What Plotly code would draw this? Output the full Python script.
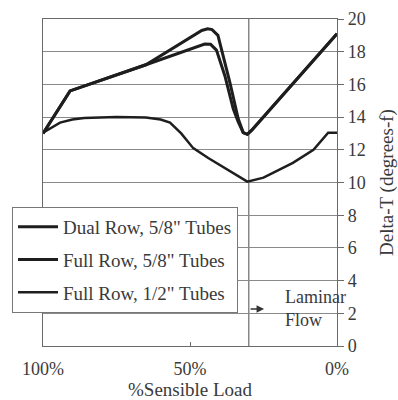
import plotly.graph_objects as go

# Data (x = % sensible load, y = delta-T degrees F)
dual_58_x = [100, 90.8, 65, 48.9, 46, 44, 42.5, 40.5, 38.5, 36.4, 33.6, 31.9, 30.5, 29, 0]
dual_58_y = [13.0, 15.6, 17.2, 19.0, 19.3, 19.4, 19.35, 19.0, 17.6, 16.1, 13.9, 13.05, 12.95, 13.2, 19.1]

full_58_x = [100, 90.8, 65, 48.9, 45, 43, 41, 38.1, 35.3, 33.6, 31.9, 30.5, 29, 0]
full_58_y = [13.0, 15.6, 17.2, 18.26, 18.47, 18.45, 18.1, 16.5, 14.5, 13.7, 13.05, 12.95, 13.2, 19.1]

full_12_x = [100, 94.2, 90, 86, 75, 65, 60, 56.8, 53, 48.9, 43.8, 37.5, 30.5, 25, 21.7, 15, 8, 3, 0]
full_12_y = [13.05, 13.66, 13.85, 13.95, 14.0, 13.97, 13.85, 13.66, 13.0, 12.1, 11.5, 10.8, 10.05, 10.3, 10.6, 11.2, 12.0, 13.05, 13.05]

series_names = ['Dual Row, 5/8" Tubes', 'Full Row, 5/8" Tubes', 'Full Row, 1/2" Tubes']
x_tickvals = [100, 50, 0]
x_ticktext = ["100%", "50%", "0%"]
y_tickvals = list(range(0, 21, 2))
laminar_load = 30

FONT = "Liberation Serif, Times New Roman, serif"
TXT = "#3a3a3a"
GRID = "#8a8a8a"
LINE = "#1e1e1e"

fig = go.Figure()
fig.add_trace(go.Scatter(x=dual_58_x, y=dual_58_y, mode="lines", name=series_names[0],
                         legendgroup="a", line=dict(color=LINE, width=3)))
fig.add_trace(go.Scatter(x=full_58_x, y=full_58_y, mode="lines", name=series_names[1],
                         legendgroup="b", line=dict(color=LINE, width=3)))
fig.add_trace(go.Scatter(x=full_12_x, y=full_12_y, mode="lines", name=series_names[2],
                         legendgroup="c", line=dict(color=LINE, width=2.5)))

fig.add_shape(type="line", xref="x", yref="y", x0=laminar_load, x1=laminar_load, y0=0, y1=20,
              line=dict(color="#6a6a6a", width=1.2), layer="below")

fig.add_annotation(x=18.4, y=2.3, xref="x", yref="y", text="Laminar<br>Flow", showarrow=False,
                   xanchor="left", yanchor="middle", align="left",
                   font=dict(family=FONT, size=18, color=TXT))
fig.add_annotation(x=24.8, y=2.27, xref="x", yref="y", text="", showarrow=True,
                   ax=-15, ay=0, arrowhead=2, arrowsize=1, arrowwidth=1.5, arrowcolor="#333")

fig.update_layout(
    width=398, height=400,
    margin=dict(l=43, r=61, t=19, b=54),
    paper_bgcolor="white", plot_bgcolor="white",
    font=dict(family=FONT, size=18, color=TXT),
    showlegend=True,
    legend=dict(x=(12 - 43) / 294, y=(346 - 207) / 327, xanchor="left", yanchor="top",
                bgcolor="white", bordercolor="#777", borderwidth=1,
                tracegroupgap=5, itemwidth=40,
                font=dict(family=FONT, size=19, color=TXT)),
    xaxis=dict(range=[100, 0], tickvals=x_tickvals, ticktext=x_ticktext,
               showgrid=False, zeroline=False, showline=True, mirror=True,
               linecolor="#6a6a6a", linewidth=1.2, ticks="inside", ticklen=4,
               tickcolor="#6a6a6a", ticklabelstandoff=6, automargin=False,
               title=dict(text="%Sensible Load", standoff=10,
                          font=dict(family=FONT, size=19, color=TXT))),
    yaxis=dict(range=[0, 20], tickvals=y_tickvals, side="right",
               showgrid=True, gridcolor=GRID, gridwidth=1.2, zeroline=False,
               showline=True, mirror=True, linecolor="#6a6a6a", linewidth=1.2,
               ticks="outside", ticklen=6, tickcolor="#6a6a6a", automargin=False,
               title=dict(text="Delta-T (degrees-f)", standoff=20,
                          font=dict(family=FONT, size=19, color=TXT))),
)

fig.write_html("out.html")
